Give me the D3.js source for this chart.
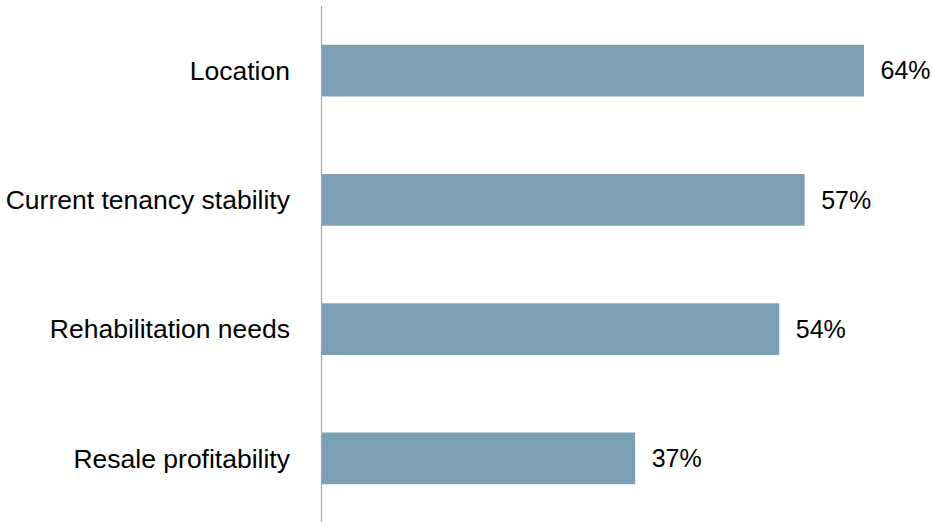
<!DOCTYPE html>
<html><head><meta charset="utf-8">
<script src="https://cdn.jsdelivr.net/npm/d3@7/dist/d3.min.js"></script>
<style>body{margin:0;background:#fff}svg{display:block}</style>
</head><body>
<script>
const categories = ["Location","Current tenancy stability","Rehabilitation needs","Resale profitability"];
const values = [64,57,54,37];
const valueLabels = ["64%","57%","54%","37%"];

const W=933,H=522;
const svg=d3.select("body").append("svg").attr("width",W).attr("height",H);
const x0=321.5;
const x=d3.scaleLinear().domain([0,64]).range([x0,864]);
const y=d3.scaleBand().domain(categories).range([6,523]).paddingInner(0.6).paddingOuter(0.3);

svg.selectAll("rect.bar").data(categories).join("rect")
  .attr("x",x(0)).attr("y",d=>y(d)).attr("width",(d,i)=>x(values[i])-x(0)).attr("height",y.bandwidth())
  .attr("fill","#7b9fb3");

svg.append("line").attr("x1",x0).attr("x2",x0).attr("y1",6).attr("y2",522)
  .attr("stroke","#a3a6ad").attr("stroke-width",1.2);

svg.selectAll("text.cat").data(categories).join("text")
  .attr("x",290).attr("y",d=>y(d)+y.bandwidth()/2).attr("dy","0.35em")
  .attr("text-anchor","end").attr("font-family","Liberation Sans, Arial, sans-serif")
  .attr("font-size",26.5).attr("fill","#000").text(d=>d);

svg.selectAll("text.val").data(categories).join("text")
  .attr("x",(d,i)=>x(values[i])+16.5).attr("y",d=>y(d)+y.bandwidth()/2).attr("dy","0.35em")
  .attr("font-family","Liberation Sans, Arial, sans-serif")
  .attr("font-size",25).attr("fill","#000").text((d,i)=>valueLabels[i]);
</script>
</body></html>
